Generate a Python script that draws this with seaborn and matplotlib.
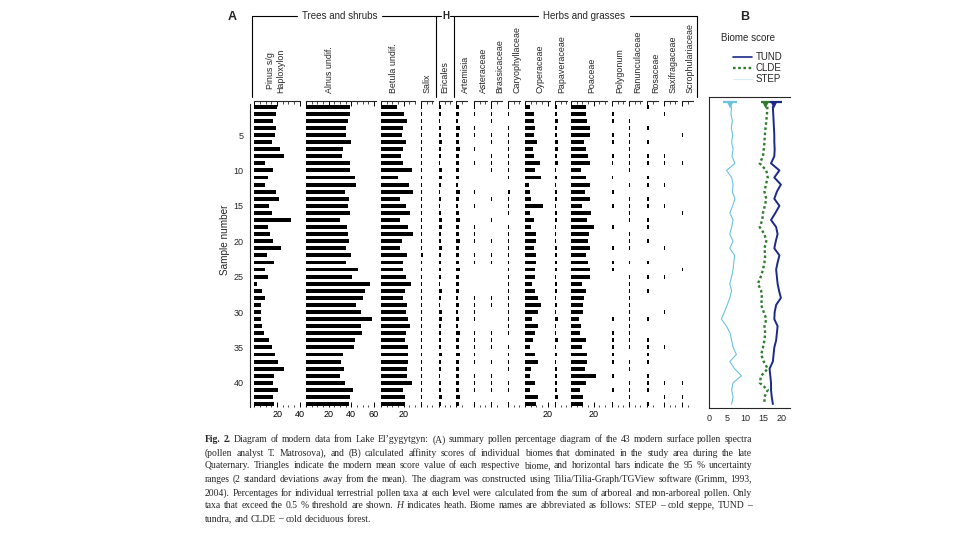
import numpy as np
import pandas as pd
import matplotlib
matplotlib.use("Agg")
import matplotlib.pyplot as plt
from matplotlib.lines import Line2D
from matplotlib.ticker import FixedLocator, FixedFormatter, MultipleLocator
import seaborn as sns

# ---------------- data ----------------
samples = list(range(1, 44))

pinus = [19.6, 19.0, 16.0, 19.0, 18.1, 15.2, 22.6, 26.1, 9.3, 16.7, 11.7, 9.3, 19.0, 21.7, 12.8,
         15.2, 32.3, 12.2, 13.7, 16.0, 23.5, 10.8, 17.3, 9.3, 12.2, 1.9, 6.3, 9.3, 6.0, 6.0,
         5.7, 6.9, 8.4, 12.8, 15.8, 18.1, 20.5, 26.1, 17.3, 16.7, 20.8, 16.7, 17.5]
alnus = [39.0, 39.0, 37.5, 35.4, 35.4, 40.0, 33.0, 31.9, 39.0, 39.0, 43.4, 44.2, 34.5, 38.0, 37.0,
         39.0, 30.0, 36.6, 37.2, 38.0, 35.4, 40.0, 35.4, 46.0, 40.7, 56.6, 52.2, 50.4, 44.2, 48.7,
         58.4, 48.7, 49.6, 43.4, 42.5, 32.7, 31.0, 33.6, 30.0, 34.5, 41.6, 39.0, 38.0]
betula = [13.9, 20.4, 22.7, 19.2, 18.6, 22.1, 19.2, 17.4, 19.2, 27.1, 14.7, 24.5, 28.0, 16.8, 21.8,
          25.7, 16.8, 23.6, 28.0, 18.3, 16.8, 22.7, 19.2, 19.2, 21.8, 26.2, 20.9, 19.2, 22.7, 21.8,
          23.6, 25.4, 21.8, 20.9, 23.6, 23.6, 23.6, 22.7, 22.7, 27.1, 19.2, 20.9, 21.5]
salix = [1.0, 1.0, 0.8, 1.0, 1.0, 0.8, 1.0, 1.0, 0.8, 1.0, 0.6, 1.0, 1.0, 0.8, 1.0,
         1.0, 0.8, 1.0, 1.0, 0.8, 1.0, 2.0, 1.0, 0.8, 1.0, 1.0, 0.8, 1.0, 1.0, 0.8,
         1.0, 1.0, 0.8, 1.0, 1.0, 0.8, 1.0, 1.0, 0.8, 1.0, 1.0, 0.8, 1.0]
ericales = [1.8, 2.2, 1.2, 2.0, 1.5, 2.4, 2.0, 1.8, 0.8, 2.5, 2.6, 2.2, 0.8, 2.0, 1.0,
            2.2, 2.4, 2.4, 2.0, 2.2, 2.6, 1.8, 2.0, 2.2, 1.8, 0.8, 2.4, 2.0, 0.8, 2.4,
            2.5, 2.0, 1.5, 2.2, 2.0, 2.6, 2.2, 2.0, 1.2, 2.0, 1.8, 2.4, 2.0]
artemisia = [2.6, 3.0, 2.2, 3.2, 2.6, 3.0, 3.2, 3.0, 2.4, 2.6, 3.0, 2.0, 3.2, 3.0, 2.0,
             2.8, 3.4, 2.6, 3.0, 3.2, 3.0, 2.6, 2.8, 3.2, 3.0, 2.8, 3.0, 2.2, 2.6, 1.8,
             2.4, 2.2, 3.2, 2.6, 3.0, 3.4, 2.8, 3.0, 2.6, 3.0, 2.8, 3.2, 2.8]
asteraceae = [0.8, 0.8, 0, 0.8, 0.8, 0, 0.8, 0, 0.8, 0, 0, 0, 0.8, 0, 0.8,
              0, 0, 0.8, 0.8, 0.8, 0, 0.8, 0.8, 0, 0, 0, 0, 0.8, 0.8, 0.8,
              0.8, 0, 0.8, 0.8, 0.8, 0.8, 0.8, 0, 0.8, 0.8, 0.8, 0, 0.8]
brassicaceae = [0.8, 0.8, 0.8, 0, 0.8, 0.8, 0, 0.8, 0.8, 0.8, 0, 0, 0, 0.8, 0,
                0, 0.8, 0, 0, 0.8, 0, 0.8, 0.8, 0, 0, 0, 0, 0.8, 0.8, 0,
                0, 0, 0.8, 0.8, 0.8, 0, 0.8, 0, 0.8, 0.8, 0.8, 0, 0.8]
caryophyllaceae = [0.8, 0.8, 0, 1.0, 1.0, 0.8, 0.8, 0.8, 0.8, 1.0, 0.8, 0, 1.6, 0.8, 0.8,
                   0.8, 0, 1.0, 1.0, 0.8, 0.8, 0.8, 0.8, 1.0, 1.0, 0.8, 0.8, 0.8, 0.8, 0.8,
                   0.8, 0.8, 0.8, 0, 1.0, 0.8, 0.8, 1.0, 0, 0.8, 1.0, 0, 0.8]
cyperaceae = [4.4, 8.0, 8.0, 8.8, 8.0, 10.3, 6.8, 8.0, 13.3, 8.8, 14.2, 3.5, 4.4, 5.3, 15.9,
              4.4, 8.0, 5.3, 9.7, 9.7, 8.0, 9.7, 9.7, 8.8, 8.8, 5.9, 8.8, 11.8, 13.9, 11.8,
              5.9, 11.5, 8.8, 7.4, 4.4, 8.8, 11.5, 5.3, 4.4, 8.8, 4.4, 11.5, 10.0]
papaveraceae = [2.2, 2.2, 2.4, 2.2, 2.2, 2.4, 2.6, 2.2, 2.4, 1.2, 2.0, 1.0, 2.2, 2.0, 1.0,
                2.2, 2.2, 1.0, 1.0, 1.0, 2.2, 2.2, 2.0, 2.2, 1.2, 2.0, 2.2, 1.0, 2.0, 1.0,
                2.4, 1.2, 1.0, 2.8, 1.0, 2.2, 1.0, 2.2, 2.0, 2.2, 2.2, 2.6, 1.0]
poaceae = [13.0, 13.0, 14.5, 16.8, 16.8, 11.5, 13.0, 14.7, 16.8, 8.8, 13.0, 16.8, 12.4, 16.8, 10.0,
           17.7, 13.9, 20.4, 15.6, 14.7, 16.8, 13.0, 14.7, 16.8, 16.8, 10.0, 13.0, 11.5, 10.3, 10.9,
           7.0, 8.8, 8.0, 13.0, 10.0, 13.9, 13.9, 12.4, 21.8, 13.0, 8.0, 10.9, 11.0]
polygonum = [0, 1.6, 1.6, 0, 1.6, 1.6, 0, 1.6, 1.0, 0, 1.0, 0, 2.0, 0, 1.6,
             0, 0, 1.6, 0, 0, 1.6, 0, 1.6, 1.6, 0, 0, 0, 0, 0, 0,
             1.6, 0, 1.6, 1.6, 1.6, 1.6, 1.6, 0, 1.6, 0, 1.6, 0, 1.2]
ranunculaceae = [0, 0, 0.8, 0.8, 0.8, 0.8, 0.8, 0.8, 0.8, 0.8, 0, 0.8, 0, 0.8, 0.8,
                 0.8, 1.2, 0, 0.8, 0.8, 0.8, 0, 0.8, 0, 0.8, 0.8, 0.8, 0.8, 0.8, 0.8,
                 0.8, 0.8, 1.2, 0.8, 0.8, 0, 0.8, 0.8, 0, 0.8, 0.8, 0.8, 0.8]
rosaceae = [1.4, 0, 0, 1.4, 0, 1.4, 0, 1.4, 1.4, 0, 1.4, 1.4, 0, 1.4, 1.4,
            0, 1.4, 1.4, 0, 1.4, 0, 0, 1.4, 0, 1.4, 0, 1.4, 0, 0, 0,
            1.4, 0, 0, 1.4, 1.4, 1.4, 1.4, 0, 1.4, 1.4, 1.4, 0, 1.4]
saxifragaceae = [0, 0.8, 0, 0, 0, 0, 0, 0.8, 0.8, 0, 0, 0.8, 0, 0, 0.8,
                 0, 0, 0, 0, 0, 0.8, 0, 0, 0, 0.8, 0, 0, 0, 0, 0.8,
                 0, 0, 0, 0, 0.8, 0, 0, 0, 0, 0.8, 0, 0.8, 0]
scrophulariaceae = [0, 0, 0, 0, 0.8, 0, 0, 0, 0.8, 0, 0, 0, 0, 0, 0,
                    0.8, 0, 0, 0, 0, 0, 0, 0, 0.8, 0, 0, 0, 0, 0, 0,
                    0, 0, 0, 0, 0, 0, 0, 0, 0, 0.8, 0, 0.8, 0]

taxa_labels = ["Pinus s/g\nHaploxylon", "Alnus undif.", "Betula undif.", "Salix", "Ericales",
               "Artemisia", "Asteraceae", "Brassicaceae", "Caryophyllaceae", "Cyperaceae",
               "Papaveraceae", "Poaceae", "Polygonum", "Ranunculaceae", "Rosaceae",
               "Saxifragaceae", "Scrophulariaceae"]
taxa_values = [pinus, alnus, betula, salix, ericales, artemisia, asteraceae, brassicaceae,
               caryophyllaceae, cyperaceae, papaveraceae, poaceae, polygonum, ranunculaceae,
               rosaceae, saxifragaceae, scrophulariaceae]
taxa_ticklabels = [[20, 40], [20, 40, 60], [20], [], [], [], [], [], [], [20], [], [20],
                   [], [], [], [], []]

biomes = ["TUND", "CLDE", "STEP"]
tund = [17.5, 17.6, 17.7, 17.8, 17.9, 17.9, 18.0, 17.9, 17.0, 19.3, 17.9, 19.7, 18.6, 17.9, 19.3,
        18.2, 17.0, 18.4, 18.8, 18.3, 17.9, 19.3, 18.8, 18.4, 18.6, 18.8, 19.2, 19.7, 18.4, 18.0,
        17.9, 18.8, 18.6, 18.4, 17.9, 17.7, 17.5, 16.6, 16.8, 17.0, 17.0, 17.2, 17.5]
clde = [16.0, 15.9, 15.7, 15.5, 15.3, 15.2, 15.0, 14.8, 13.9, 15.7, 16.1, 15.6, 15.2, 15.7, 15.3,
        14.8, 14.6, 13.9, 15.2, 15.7, 15.2, 15.4, 15.2, 14.8, 14.2, 13.4, 14.3, 14.5, 14.3, 15.0,
        15.7, 15.2, 15.4, 15.2, 14.8, 14.3, 15.0, 16.1, 14.3, 13.9, 16.1, 15.2, 15.2]
step = [6.2, 6.0, 6.4, 6.1, 6.5, 6.2, 6.6, 6.3, 7.1, 4.8, 6.2, 6.6, 6.4, 7.1, 6.5,
        5.7, 6.6, 6.2, 5.7, 6.6, 5.7, 7.0, 6.8, 6.6, 6.2, 5.7, 6.2, 5.7, 5.0, 4.2,
        3.4, 4.8, 5.8, 6.2, 6.6, 7.5, 5.7, 7.0, 8.9, 6.6, 6.2, 6.6, 6.2]
biome_mean = [17.8, 15.5, 5.8]
biome_low = [16.7, 14.2, 3.7]
biome_high = [19.9, 16.7, 7.6]

caption_lines = [
    "Fig. 2. Diagram of modern data from Lake El’gygytgyn: (A) summary pollen percentage diagram of the 43 modern surface pollen spectra",
    "(pollen analyst T. Matrosova), and (B) calculated affinity scores of individual biomes that dominated in the study area during the late",
    "Quaternary. Triangles indicate the modern mean score value of each respective biome, and horizontal bars indicate the 95 % uncertainty",
    "ranges (2 standard deviations away from the mean). The diagram was constructed using Tilia/Tilia-Graph/TGView software (Grimm, 1993,",
    "2004). Percentages for individual terrestrial pollen taxa at each level were calculated from the sum of arboreal and non-arboreal pollen. Only",
    "taxa that exceed the 0.5 % threshold are shown. H indicates heath. Biome names are abbreviated as follows: STEP – cold steppe, TUND –",
    "tundra, and CLDE – cold deciduous forest.",
]

# ---------------- layout (pixels) ----------------
W, H = 960, 540
col_px = [(254.5, 300), (306, 376), (381, 415), (421, 433), (439, 452), (456, 467), (474, 487),
          (491, 502), (508, 520), (525, 550), (555, 567), (571, 607), (612, 625), (629, 642),
          (647, 658), (664, 677), (682, 693)]
label_x = [276, 330, 393, 427, 445, 465, 483, 500, 517, 540, 562, 592, 620, 638, 656, 673, 690]
PX = 1.13
Y_TOP, Y_BOT = 101, 407
S0, DS = 106.7, 7.08


def fx(x):
    return x / W


def fy(y):
    return 1 - y / H


def s_of(y):
    return 1 + (y - S0) / DS


sns.set_style("white")
plt.rcParams["font.family"] = ["Liberation Sans", "DejaVu Sans"]
plt.rcParams["axes.linewidth"] = 0.8

fig = plt.figure(figsize=(9.6, 5.4), dpi=100)

# ---------------- panel A ----------------
for i, (name, (x0, x1), vals, tl) in enumerate(zip(taxa_labels, col_px, taxa_values, taxa_ticklabels)):
    ax = fig.add_axes([fx(x0), fy(Y_BOT), (x1 - x0) / W, (Y_BOT - Y_TOP) / H])
    ax.set_facecolor("none")
    df = pd.DataFrame({"sample": samples, "pct": vals})
    sns.barplot(data=df, x="pct", y="sample", orient="y", native_scale=True,
                color="black", width=0.55, linewidth=0, errorbar=None, ax=ax)
    ax.set_xlim(0, (x1 - x0) / PX)
    ax.set_ylim(s_of(Y_BOT), s_of(Y_TOP))
    for sp in ["left", "right", "bottom"]:
        ax.spines[sp].set_visible(False)
    ax.spines["top"].set_visible(True)
    ax.spines["top"].set_linewidth(0.8)
    ax.set_xlabel("")
    ax.set_ylabel("")
    ax.set_yticks([])
    ax.xaxis.set_major_locator(FixedLocator([0] + tl))
    ax.xaxis.set_major_formatter(FixedFormatter([""] + [str(v) for v in tl]))
    ax.xaxis.set_minor_locator(MultipleLocator(5))
    ax.tick_params(axis="x", which="major", top=True, bottom=True, direction="in",
                   length=3.5, width=0.7, labelsize=6.5, pad=2.5, colors="black")
    ax.tick_params(axis="x", which="minor", top=True, bottom=True, direction="in",
                   length=1.8, width=0.6)
    fig.text(fx(label_x[i]), fy(93), name, rotation=90,
             ha="center", va="bottom", fontsize=6.4, linespacing=1.15)

# sample-number axis
axy = fig.add_axes([fx(250), fy(Y_BOT), 0.0005, (Y_BOT - Y_TOP) / H])
axy.set_facecolor("none")
axy.set_ylim(s_of(Y_BOT), s_of(Y_TOP))
for sp in ["right", "top", "bottom"]:
    axy.spines[sp].set_visible(False)
axy.spines["left"].set_bounds(0.6, 43.4)
axy.spines["left"].set_linewidth(0.8)
axy.set_xticks([])
axy.set_yticks([5, 10, 15, 20, 25, 30, 35, 40])
axy.tick_params(axis="y", direction="out", length=3, width=0.7, labelsize=6.5, pad=1.5)
fig.text(fx(225), fy(240), "Sample number", rotation=90, ha="center", va="center", fontsize=7.2)


# group headers
def fline(xs, ys, lw=0.8):
    fig.add_artist(Line2D([fx(x) for x in xs], [fy(y) for y in ys], color="black",
                          lw=lw, transform=fig.transFigure))


fig.text(fx(232), fy(17), "A", fontsize=9, fontweight="bold", ha="center", va="center")
fig.text(fx(745), fy(17), "B", fontsize=9, fontweight="bold", ha="center", va="center")
fline([252, 252], [97, 16])
fline([252, 297], [16, 16])
fig.text(fx(339.5), fy(16), "Trees and shrubs", fontsize=7, ha="center", va="center")
fline([382, 436], [16, 16])
fline([436, 436], [16, 97])
fline([436, 440.5], [16, 16])
fig.text(fx(445.5), fy(16), "H", fontsize=7, fontweight="bold", ha="center", va="center")
fline([450, 454], [16, 16])
fline([454, 454], [16, 97])
fline([454, 538], [16, 16])
fig.text(fx(584), fy(16), "Herbs and grasses", fontsize=7, ha="center", va="center")
fline([630, 697], [16, 16])
fline([697, 697], [16, 97])

# ---------------- panel B ----------------
palette = {"TUND": "#1b2a88", "CLDE": "#2f7d2c", "STEP": "#6cc3e0"}
dash = {"TUND": "", "CLDE": (1.1, 1.1), "STEP": ""}
widths = {"TUND": 1.4, "CLDE": 1.7, "STEP": 0.8}

axB = fig.add_axes([fx(709), fy(408), (790 - 709) / W, (408 - 97) / H])
axB.set_facecolor("none")
dfB = pd.DataFrame({
    "sample": samples * 3,
    "score": tund + clde + step,
    "biome": ["TUND"] * 43 + ["CLDE"] * 43 + ["STEP"] * 43,
})
sns.lineplot(data=dfB, x="score", y="sample", hue="biome", style="biome", size="biome",
             hue_order=biomes, palette=palette, dashes=dash, sizes=widths,
             sort=False, estimator=None, legend=False, ax=axB)
axB.hlines(y=[0.34] * 3, xmin=biome_low, xmax=biome_high,
           colors=[palette[b] for b in biomes], lw=1.6)
dfT = pd.DataFrame({"biome": biomes, "score": biome_mean, "y": [0.8] * 3})
sns.scatterplot(data=dfT, x="score", y="y", hue="biome", palette=palette, marker="v",
                s=22, linewidth=0, legend=False, ax=axB)
axB.set_xlim(0, 22.2)
axB.set_ylim(s_of(408), s_of(97))
axB.spines["right"].set_visible(False)
for sp in ["left", "top", "bottom"]:
    axB.spines[sp].set_linewidth(0.8)
axB.set_xticks([0, 5, 10, 15, 20])
axB.set_yticks([])
axB.set_xlabel("")
axB.set_ylabel("")
axB.tick_params(axis="x", direction="out", length=2, width=0.7, labelsize=6.5, pad=2.5)

fig.text(fx(748), fy(38), "Biome score", fontsize=7, ha="center", va="center")
handles = [Line2D([], [], color=palette["TUND"], lw=1.2),
           Line2D([], [], color=palette["CLDE"], lw=1.7, linestyle=(0, (1.1, 1.1))),
           Line2D([], [], color="#d8eef6", lw=0.8)]
fig.legend(handles, biomes, loc="upper left", bbox_to_anchor=(fx(733), fy(52.5)),
           bbox_transform=fig.transFigure, frameon=False, fontsize=7, handlelength=2.0,
           handletextpad=0.3, labelspacing=0.1, borderpad=0, borderaxespad=0)

# ---------------- caption ----------------
renderer = fig.canvas.get_renderer()
cap_x0, cap_x1 = 205, 752
cap_y = [442.5, 455.5, 468.5, 481.5, 495.5, 508.5, 521.5]   # baselines
serif = ["Liberation Serif", "DejaVu Serif"]


def make_line(i, line, fs):
    words = line.split(" ")
    texts = []
    for j, w in enumerate(words):
        kw = {}
        if i == 0 and j < 2:
            kw["fontweight"] = "bold"
        if i == 5 and w == "H":
            kw["fontstyle"] = "italic"
        texts.append(fig.text(0, fy(cap_y[i]), w, fontsize=fs, family=serif,
                              ha="left", va="baseline", **kw))
    wd = [t.get_window_extent(renderer).width for t in texts]
    return texts, wd


fs = 7.4
while True:
    ok = True
    for i, line in enumerate(caption_lines[:-1]):
        texts, wd = make_line(i, line, fs)
        gap = (cap_x1 - cap_x0 - sum(wd)) / (len(wd) - 1)
        for t in texts:
            t.remove()
        if gap < 2.2:
            ok = False
            break
    if ok or fs < 5.5:
        break
    fs -= 0.1

for i, line in enumerate(caption_lines):
    texts, wd = make_line(i, line, fs)
    if i < len(caption_lines) - 1:
        gap = (cap_x1 - cap_x0 - sum(wd)) / (len(wd) - 1)
    else:
        gap = fs * 100 / 72 * 0.25
    x = cap_x0
    for t, w in zip(texts, wd):
        t.set_x(fx(x))
        x += w + gap

fig.savefig("out.png", dpi=100)
